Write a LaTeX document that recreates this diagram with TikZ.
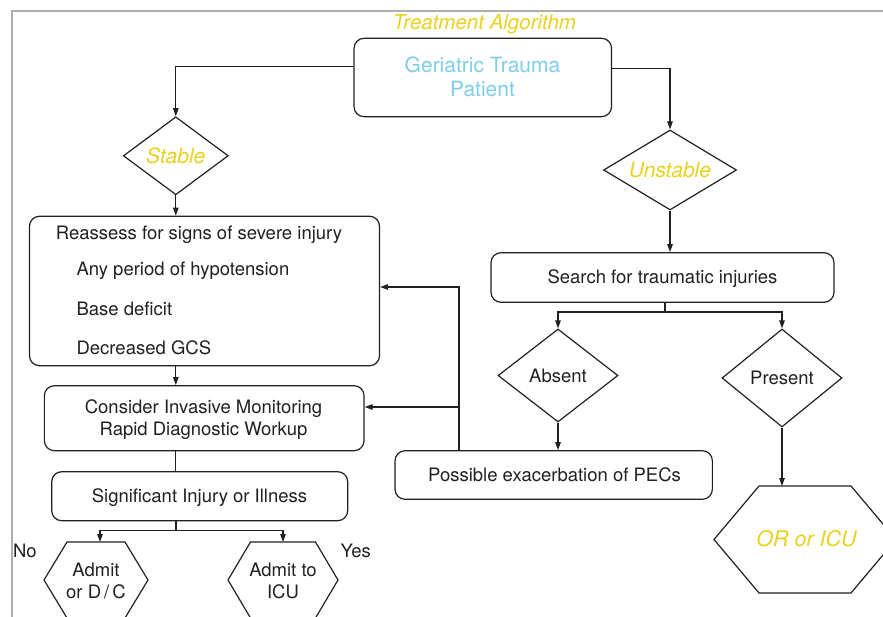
\documentclass[tikz,border=0pt]{standalone}
\usepackage{fontspec}
\setmainfont{TeX Gyre Heros}
\usetikzlibrary{shapes.geometric,arrows.meta}
\definecolor{ink}{HTML}{231F20}
\definecolor{gold}{HTML}{E9D11F}
\definecolor{sky}{HTML}{80CDEB}
\definecolor{rule}{HTML}{AEAEAE}
\newcommand\bodysize{\fontsize{18.5}{22}\selectfont}
\newcommand\headsize{\fontsize{21}{24}\selectfont}

\begin{document}
\begin{tikzpicture}[x=1pt,y=-1pt,
  line width=1.2pt,
  txt/.style={inner sep=0pt, text=ink, font=\bodysize},
  box/.style={draw=ink, rounded corners=10pt, inner sep=0pt},
  choice/.style={draw=ink, diamond, inner sep=0pt, aspect=1.6},
  flow/.style={draw=ink},
  arr/.style={flow, -{Triangle[length=8pt,width=5.5pt]}},
  hl/.style={inner sep=0pt, text=gold, font=\headsize\itshape},
]
\useasboundingbox (0,0) rectangle (883,617);
\clip (0,0) rectangle (883,617);

% page frame
\draw[rule, line width=1.6pt] (12,617) -- (12,11) -- (883,11);

% heading
\node[hl, anchor=base, font=\fontsize{20.5}{24}\selectfont\itshape] (title) at (484.5,29.3) {Treatment Algorithm};

% entry box
\node[box, minimum width=257.5, minimum height=78.4] (patient) at (482.8,77.5) {};
\node[txt, anchor=base, text=sky, font=\headsize] (patient1) at (482.5,72.3) {Geriatric Trauma};
\node[txt, anchor=base, text=sky, font=\headsize] (patient2) at (482.5,96.7) {Patient};

% decisions
\node[choice, hl, minimum width=105, minimum height=78] (stable) at (175.8,155.8) {Stable};
\node[choice, hl, minimum width=133, minimum height=80] (unstable) at (670,170) {Unstable};
\node[choice, txt, minimum width=120, minimum height=93] (absent) at (558,375.5) {Absent};
\node[choice, txt, minimum width=120, minimum height=98] (present) at (782,378) {Present};

% stable branch
\node[box, minimum width=350, minimum height=149.5] (reassess) at (204.5,291) {};
\node[txt, anchor=base] (r0) at (199,239.3) {Reassess for signs of severe injury};
\node[txt, anchor=base west] (r1) at (76,276) {Any period of hypotension};
\node[txt, anchor=base west] (r2) at (76,316) {Base deficit};
\node[txt, anchor=base west] (r3) at (76,354.3) {Decreased GCS};

\node[box, minimum width=319.7, minimum height=65] (consider) at (204.2,418.2) {};
\node[txt, anchor=base] (c1) at (203.5,413) {Consider Invasive Monitoring};
\node[txt, anchor=base] (c2) at (203.5,435.7) {Rapid Diagnostic Workup};

\node[box, minimum width=296, minimum height=49] (signif) at (199.7,496.2) {};
\node[txt, anchor=base] (s1) at (199.5,502.5) {Significant Injury or Illness};

% outcome hexagons
\draw[flow] (44,580) -- (67,542) -- (125,542) -- (148,580) -- (125,618) -- (67,618) -- cycle;
\draw[flow] (228,580) -- (250.5,542) -- (315.5,542) -- (338,580) -- (315.5,618) -- (250.5,618) -- cycle;
\draw[flow] (714,539.5) -- (759,486) -- (851,486) -- (896,539.5) -- (851,593) -- (759,593) -- cycle;
\coordinate (admitTop) at (100,542);
\coordinate (icuTop) at (283,542);
\coordinate (orTop) at (782,486);
\node[txt, anchor=base] (a1) at (96,576.7) {Admit};
\node[txt, anchor=base] (a2) at (96,598.3) {or D\,/\,C};
\node[txt, anchor=base] (i1) at (283,576.7) {Admit to};
\node[txt, anchor=base] (i2) at (283,598.3) {ICU};
\node[hl, font=\fontsize{21.5}{24}\selectfont\itshape, anchor=base] (orIcu) at (806.5,546) {OR or ICU};
\node[txt, anchor=base west] (no) at (12.5,557.3) {No};
\node[txt, anchor=base west] (yes) at (340,557.3) {Yes};

% unstable branch
\node[box, minimum width=343, minimum height=49.6] (search) at (662.5,277.5) {};
\node[txt, anchor=base] (se1) at (662.5,283.3) {Search for traumatic injuries};
\node[box, minimum width=317.3, minimum height=48.6] (pecs) at (553.7,475) {};
\node[txt, anchor=base] (p1) at (554.5,481) {Possible exacerbation of PECs};

% connectors
\draw[arr] ([yshift=10.8pt]patient.west) -| (stable.north);
\draw[arr] ([yshift=9.2pt]patient.east) -| (unstable.north);

\draw[arr] (stable.south) -- (stable.south |- reassess.north);
\draw[arr] (stable.south |- reassess.south) -- (stable.south |- consider.north);
\draw[flow] (stable.south |- consider.south) -- (stable.south |- signif.north);
\coordinate (forkL) at (176,530.7);
\draw[flow] (forkL |- signif.south) -- (forkL);
\draw[arr] (forkL) -| (admitTop);
\draw[arr] (forkL) -| (icuTop);

\draw[arr] (unstable.south) -- (unstable.south |- search.north);
\coordinate (forkR) at (665,312);
\draw[flow] (forkR |- search.south) -- (forkR);
\draw[arr] (forkR) -| (absent.north);
\draw[arr] (forkR) -| (present.north);
\draw[arr] (absent.south) -- (absent.south |- pecs.north);
\draw[arr] (present.south) -- (orTop);

\coordinate (loopA) at (459,287);
\coordinate (loopB) at (459,407);
\draw[arr] (loopA |- pecs.north) -- (loopA) -- (loopA -| reassess.east);
\draw[arr] (loopB) -- (loopB -| consider.east);
\end{tikzpicture}
\end{document}
